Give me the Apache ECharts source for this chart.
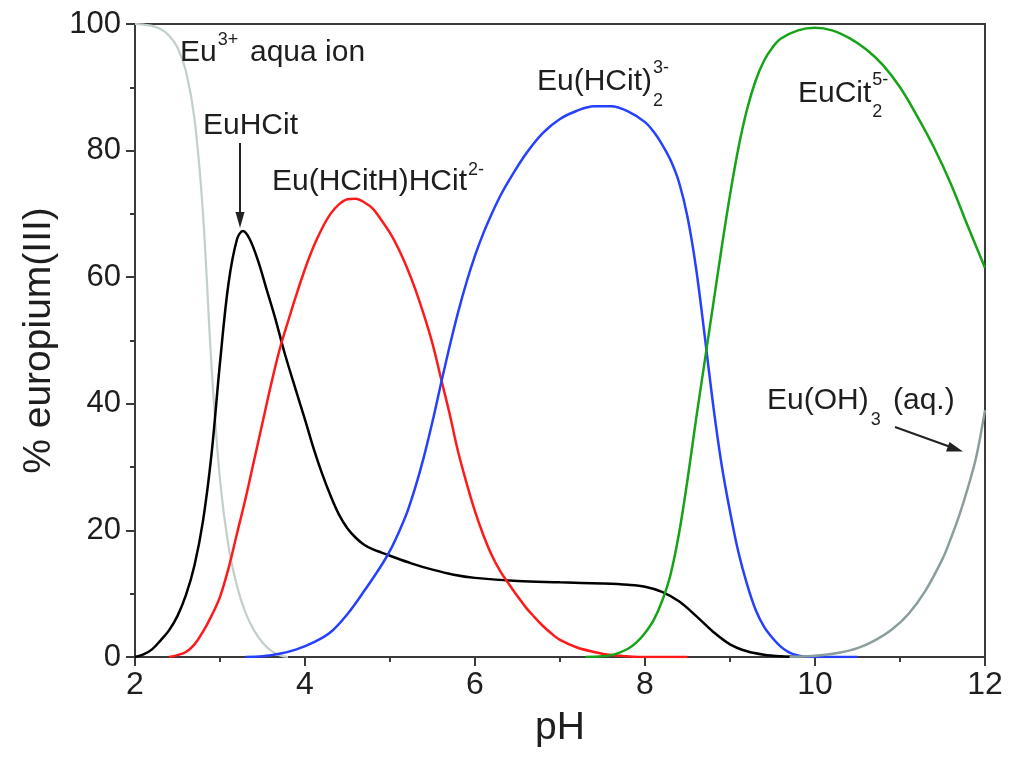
<!DOCTYPE html>
<html>
<head>
<meta charset="utf-8">
<script src="https://cdn.jsdelivr.net/npm/echarts@6/dist/echarts.min.js"></script>
<style>
html,body{margin:0;padding:0;background:#fff;}
#chart{width:1014px;height:757px;}
</style>
</head>
<body>
<div id="chart"></div>
<script>
// ---- Data ----
const aquaPH  = [2.0,2.1,2.2,2.3,2.4,2.5,2.6,2.7,2.8,2.9,3.0,3.1,3.2,3.3,3.4,3.5,3.6,3.7,3.8];
const aquaVal = [100,99.9,99.7,99.2,98.2,96.3,92.5,85,70,46,28,17.5,11.2,7,4.2,2.3,1,0.3,0];

const hcitPH  = [2.0,2.1,2.2,2.3,2.4,2.5,2.6,2.7,2.8,2.9,3.0,3.1,3.2,3.27,3.35,3.45,3.55,3.65,3.75,3.85,4.0,4.1,4.2,4.3,4.4,4.5,4.6,4.7,4.8,4.9,5.0,5.25,5.5,5.75,6.0,6.5,7.0,7.5,7.8,8.0,8.2,8.4,8.6,8.8,9.0,9.2,9.4,9.6,9.8];
const hcitVal = [0,0.4,1.2,2.6,4.2,6.5,9.8,14.5,21.5,32,46.5,59,66,67.3,66,62.5,58,53.5,48.5,44,37.5,33,29,25.5,22.5,20.3,18.8,17.7,17,16.5,16,14.8,13.8,13,12.5,12,11.8,11.6,11.4,11.1,10.3,8.8,6.5,4,2,0.9,0.35,0.1,0];

const hcithPH  = [2.4,2.5,2.6,2.7,2.8,2.9,3.0,3.1,3.2,3.3,3.4,3.5,3.6,3.7,3.8,3.9,4.0,4.1,4.2,4.3,4.4,4.5,4.6,4.7,4.8,4.9,5.0,5.1,5.2,5.3,5.4,5.5,5.6,5.7,5.8,5.9,6.0,6.1,6.2,6.3,6.4,6.5,6.6,6.7,6.8,6.9,7.0,7.2,7.4,7.6,7.8,8.0,8.5];
const hcithVal = [0,0.3,0.8,2,4,6.5,9.5,14,19.5,25,31,37,43,48.5,53,57.3,61.3,64.8,67.7,70,71.5,72.3,72.4,71.8,70.8,69,67,64.5,61.5,58,54,49.5,44,38.5,32.5,27.5,23,19.2,16,13.5,11.5,9.6,7.8,6.3,4.9,3.7,2.7,1.5,0.8,0.3,0.1,0,0];

const hcit2PH  = [3.3,3.5,3.7,3.9,4.1,4.3,4.5,4.7,4.9,5.0,5.1,5.2,5.3,5.4,5.5,5.6,5.7,5.8,5.9,6.0,6.1,6.2,6.3,6.4,6.6,6.8,7.0,7.2,7.4,7.6,7.8,8.0,8.1,8.2,8.3,8.4,8.5,8.6,8.7,8.8,8.9,9.0,9.1,9.2,9.3,9.4,9.5,9.6,9.7,9.8,9.9,10.0,10.5];
const hcit2Val = [0,0.1,0.5,1.2,2.3,3.9,6.8,10.5,14.5,16.8,19.6,22.8,26.9,31.7,37.2,43.2,49,54.4,59.2,63.4,67,70.1,72.9,75.3,79.5,82.8,85,86.3,87,87,86.2,84.5,83,81,78.5,75,69.5,61.5,51,40,30.5,23,16.5,11.5,7.5,4.8,3,1.6,0.7,0.25,0.05,0,0];

const cit2PH  = [7.3,7.5,7.6,7.7,7.8,7.9,8.0,8.1,8.2,8.3,8.4,8.5,8.6,8.7,8.8,8.9,9.0,9.1,9.2,9.3,9.4,9.5,9.6,9.8,10.0,10.2,10.4,10.6,10.8,11.0,11.2,11.4,11.6,11.8,12.0];
const cit2Val = [0,0.1,0.3,0.7,1.3,2.3,3.8,5.8,8.8,13,19.5,28,37.5,46.5,55.5,64.5,73,80.5,86.5,91,94.2,96.3,97.7,99,99.4,99,97.8,96,93.5,90,85.5,80.5,74.7,68,61.5];

const ohPH  = [9.7,9.9,10.1,10.3,10.5,10.7,10.9,11.1,11.3,11.5,11.6,11.7,11.8,11.9,12.0];
const ohVal = [0,0.1,0.3,0.7,1.4,2.6,4.3,6.8,10.5,15.5,18.8,22.5,26.8,31.8,39];

const xTicks = {min: 2, max: 12, interval: 2};
const yTicks = {min: 0, max: 100, interval: 20};

// ---- Chart ----
const FONT = '"Liberation Sans", Arial, sans-serif';
const AX = '#3a3a3a';
const TXT = '#1e1e1e';

function pairs(xs, ys){ return xs.map((x,i)=>[x, ys[i]]); }

const chart = echarts.init(document.getElementById('chart'), null, {renderer:'canvas'});

function mkSeries(name, xs, ys, color, width){
  return {
    name, type:'line', data: pairs(xs, ys), showSymbol:false, symbol:'none',
    smooth:0.35, silent:true, animation:false,
    lineStyle:{color, width: width || 2.5}, itemStyle:{color}
  };
}

const axisCommon = {
  type:'value',
  axisLine:{show:true, lineStyle:{color:AX, width:2}},
  axisTick:{show:true, inside:false, length:9, lineStyle:{color:AX, width:2}},
  minorTick:{show:true, splitNumber:2, length:5, lineStyle:{color:AX, width:2}},
  splitLine:{show:false},
  minorSplitLine:{show:false}
};

chart.setOption({
  backgroundColor:'#fff',
  animation:false,
  grid:{left:135, right:29, top:24, bottom:100, show:true, borderColor:AX, borderWidth:2, backgroundColor:'transparent'},
  xAxis: Object.assign({}, axisCommon, {
    min:xTicks.min, max:xTicks.max, interval:xTicks.interval,
    axisLabel:{fontSize:32, color:TXT, fontFamily:FONT, margin:12, showMinLabel:true, showMaxLabel:true},
    name:'pH', nameLocation:'middle', nameGap:52,
    nameTextStyle:{fontSize:39, color:TXT, fontFamily:FONT}
  }),
  yAxis: Object.assign({}, axisCommon, {
    min:yTicks.min, max:yTicks.max, interval:yTicks.interval,
    axisLabel:{fontSize:31, color:TXT, fontFamily:FONT, margin:14, showMinLabel:true, showMaxLabel:true},
    name:'% europium(III)', nameLocation:'middle', nameGap:76,
    nameTextStyle:{fontSize:39, color:TXT, fontFamily:FONT}
  }),
  series:[
    mkSeries('Eu3+ aqua ion', aquaPH, aquaVal, '#c3cfcd', 2.2),
    mkSeries('EuHCit', hcitPH, hcitVal, '#000000', 2.5),
    mkSeries('Eu(HCitH)HCit2-', hcithPH, hcithVal, '#ff1a1a', 2.5),
    mkSeries('Eu(HCit)2 3-', hcit2PH, hcit2Val, '#2540ff', 2.5),
    mkSeries('EuCit2 5-', cit2PH, cit2Val, '#17a317', 2.5),
    mkSeries('Eu(OH)3 (aq.)', ohPH, ohVal, '#8a9e9e', 2.5)
  ]
});

// ---- Annotations (text labels with sub/superscripts and arrows) ----
const mctx = document.createElement('canvas').getContext('2d');
function tw(str, size){ mctx.font = size + 'px ' + FONT; return mctx.measureText(str).width; }
function txt(str, x, y, size){
  return {type:'text', x, y, silent:true, z:100,
    style:{text:str, fontSize:size, fontFamily:FONT, fill:TXT, textVerticalAlign:'middle', verticalAlign:'middle', textAlign:'left', align:'left'}};
}
const MS = 30, SS = 18;
const g = [];
// Eu3+ aqua ion
g.push(txt('Eu', 180, 53, MS));
g.push(txt('3+', 180 + tw('Eu', MS) + 1, 40, SS));
g.push(txt('aqua ion', 250, 53, MS));
// EuHCit + arrow
g.push(txt('EuHCit', 203, 126, MS));
g.push({type:'line', silent:true, z:100, shape:{x1:240, y1:143, x2:240, y2:216}, style:{stroke:'#222', lineWidth:2}});
g.push({type:'polygon', silent:true, z:100, shape:{points:[[235.5,212],[244.5,212],[240,228]]}, style:{fill:'#222'}});
// Eu(HCitH)HCit2-
g.push(txt('Eu(HCitH)HCit', 272, 182, MS));
g.push(txt('2-', 272 + tw('Eu(HCitH)HCit', MS) + 1, 170, SS));
// Eu(HCit)2 3-
g.push(txt('Eu(HCit)', 537, 82, MS));
g.push(txt('3-', 537 + tw('Eu(HCit)', MS) + 1, 68, SS));
g.push(txt('2', 537 + tw('Eu(HCit)', MS) + 1, 101, SS));
// EuCit2 5-
g.push(txt('EuCit', 798, 94, MS));
g.push(txt('5-', 798 + tw('EuCit', MS) + 1, 80, SS));
g.push(txt('2', 798 + tw('EuCit', MS) + 1, 112, SS));
// Eu(OH)3 (aq.) + arrow
g.push(txt('Eu(OH)', 767, 401, MS));
g.push(txt('3', 767 + tw('Eu(OH)', MS) + 2, 420, SS));
g.push(txt('(aq.)', 893, 401, MS));
g.push({type:'line', silent:true, z:100, shape:{x1:895, y1:427, x2:952, y2:447.5}, style:{stroke:'#222', lineWidth:2}});
g.push({type:'polygon', silent:true, z:100, shape:{points:[[946,451.5],[949.5,442],[963,451.5]]}, style:{fill:'#222'}});

chart.setOption({graphic:{elements:g}});
</script>
</body>
</html>
